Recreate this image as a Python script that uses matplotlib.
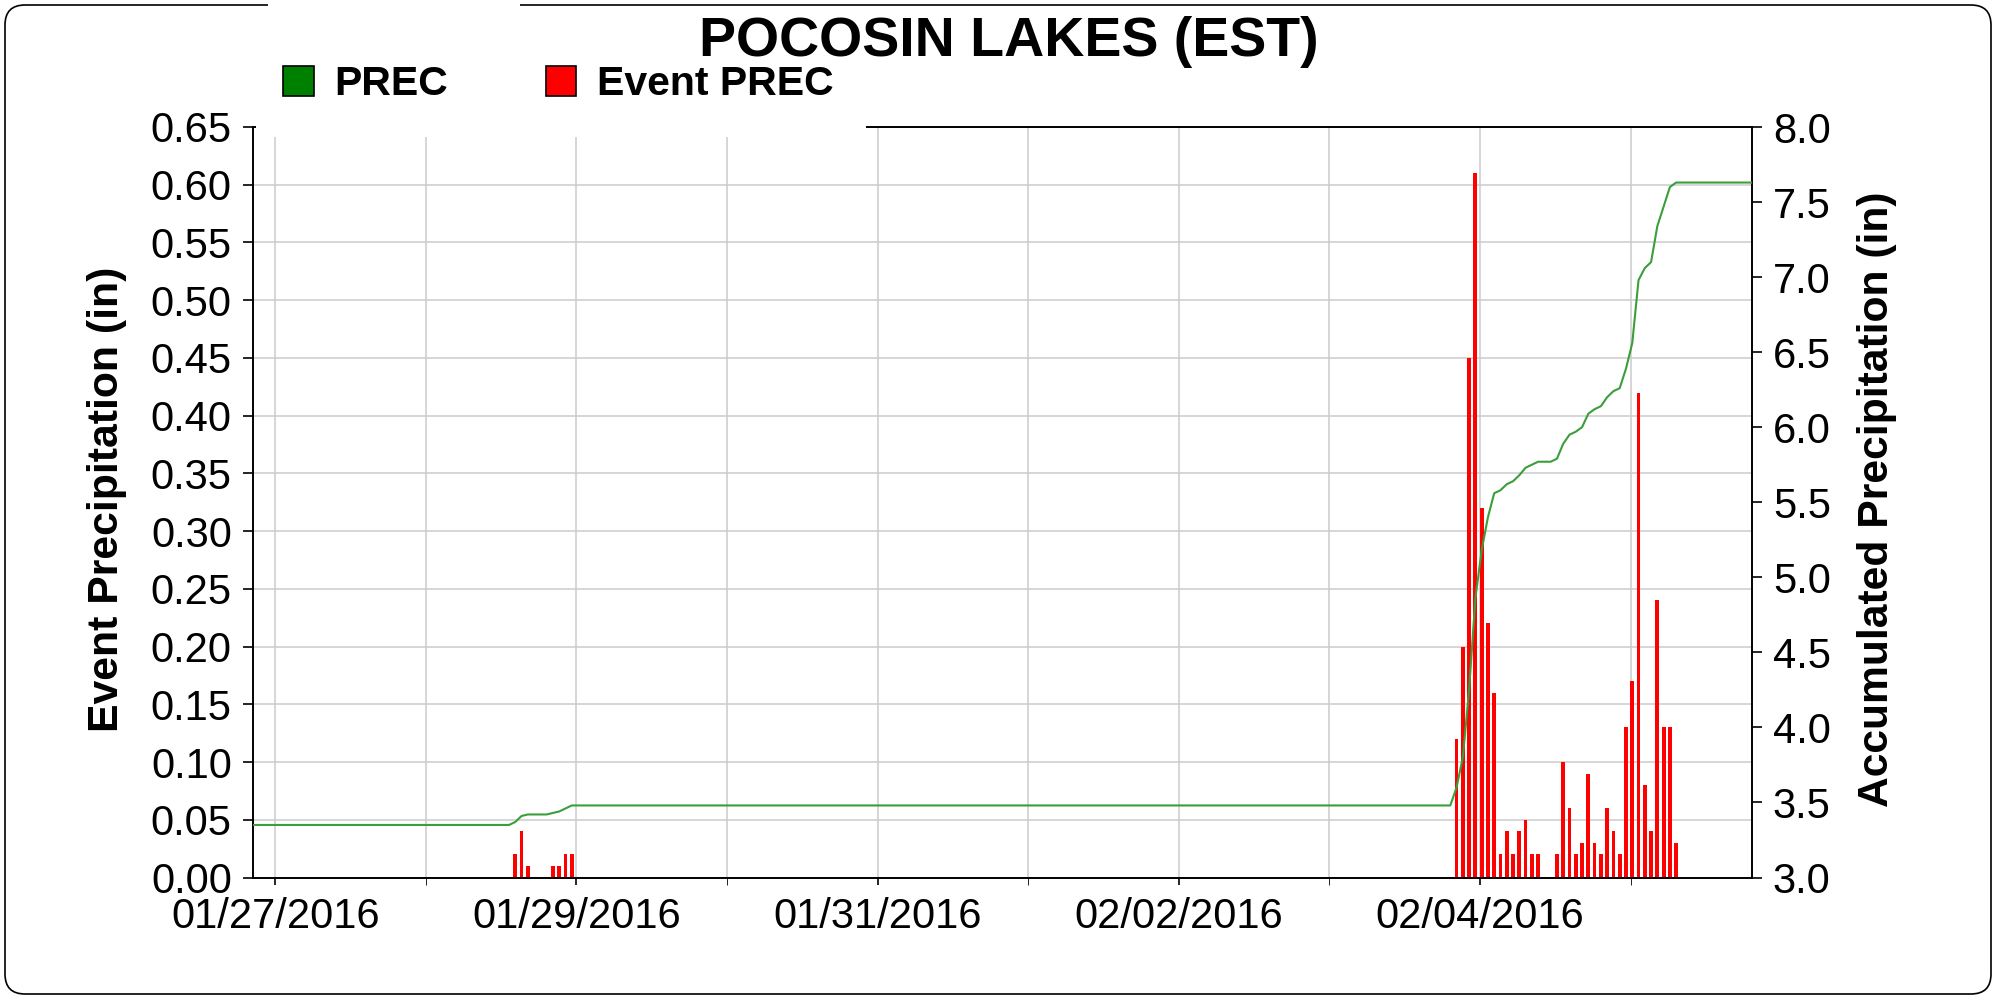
import matplotlib
matplotlib.use("Agg")
import matplotlib.pyplot as plt
import matplotlib.dates as mdates
import matplotlib.ticker as mticker
from matplotlib.patches import Patch, Rectangle, FancyBboxPatch
from matplotlib.transforms import IdentityTransform
import pandas as pd

# hourly event precipitation (in)
event_times = [
    "2016-01-28 14:15", "2016-01-28 15:15", "2016-01-28 16:15",
    "2016-01-28 20:15", "2016-01-28 21:15", "2016-01-28 22:15", "2016-01-28 23:15",
    "2016-02-03 20:15", "2016-02-03 21:15", "2016-02-03 22:15", "2016-02-03 23:15",
    "2016-02-04 00:15", "2016-02-04 01:15", "2016-02-04 02:15", "2016-02-04 03:15",
    "2016-02-04 04:15", "2016-02-04 05:15", "2016-02-04 06:15", "2016-02-04 07:15",
    "2016-02-04 08:15", "2016-02-04 09:15",
    "2016-02-04 12:15", "2016-02-04 13:15", "2016-02-04 14:15", "2016-02-04 15:15",
    "2016-02-04 16:15", "2016-02-04 17:15", "2016-02-04 18:15", "2016-02-04 19:15",
    "2016-02-04 20:15", "2016-02-04 21:15", "2016-02-04 22:15", "2016-02-04 23:15",
    "2016-02-05 00:15", "2016-02-05 01:15", "2016-02-05 02:15", "2016-02-05 03:15",
    "2016-02-05 04:15", "2016-02-05 05:15", "2016-02-05 06:15", "2016-02-05 07:15",
]
event_prec = [
    0.02, 0.04, 0.01,
    0.01, 0.01, 0.02, 0.02,
    0.12, 0.20, 0.45, 0.61,
    0.32, 0.22, 0.16, 0.02,
    0.04, 0.02, 0.04, 0.05,
    0.02, 0.02,
    0.02, 0.10, 0.06, 0.02,
    0.03, 0.09, 0.03, 0.02,
    0.06, 0.04, 0.02, 0.13,
    0.17, 0.42, 0.08, 0.04,
    0.24, 0.13, 0.13, 0.03,
]

# accumulated precipitation (in)
accum_times = [
    "2016-01-26 20:00", "2016-01-28 13:15",
    "2016-01-28 14:15", "2016-01-28 15:15", "2016-01-28 16:15", "2016-01-28 19:15",
    "2016-01-28 20:15", "2016-01-28 21:15", "2016-01-28 22:15", "2016-01-28 23:15",
    "2016-02-03 19:15",
    "2016-02-03 20:15", "2016-02-03 21:15", "2016-02-03 22:15", "2016-02-03 23:15",
    "2016-02-04 00:15", "2016-02-04 01:15", "2016-02-04 02:15", "2016-02-04 03:15",
    "2016-02-04 04:15", "2016-02-04 05:15", "2016-02-04 06:15", "2016-02-04 07:15",
    "2016-02-04 08:15", "2016-02-04 09:15", "2016-02-04 11:15",
    "2016-02-04 12:15", "2016-02-04 13:15", "2016-02-04 14:15", "2016-02-04 15:15",
    "2016-02-04 16:15", "2016-02-04 17:15", "2016-02-04 18:15", "2016-02-04 19:15",
    "2016-02-04 20:15", "2016-02-04 21:15", "2016-02-04 22:15", "2016-02-04 23:15",
    "2016-02-05 00:15", "2016-02-05 01:15", "2016-02-05 02:15", "2016-02-05 03:15",
    "2016-02-05 04:15", "2016-02-05 05:15", "2016-02-05 06:15", "2016-02-05 07:15",
    "2016-02-05 20:00",
]
accum_prec = [
    3.35, 3.35,
    3.37, 3.41, 3.42, 3.42,
    3.43, 3.44, 3.46, 3.48,
    3.48,
    3.60, 3.80, 4.25, 4.86,
    5.18, 5.40, 5.56, 5.58,
    5.62, 5.64, 5.68, 5.73,
    5.75, 5.77, 5.77,
    5.79, 5.89, 5.95, 5.97,
    6.00, 6.09, 6.12, 6.14,
    6.20, 6.24, 6.26, 6.39,
    6.56, 6.98, 7.06, 7.10,
    7.34, 7.47, 7.60, 7.63,
    7.63,
]

label_days = ["2016-01-27", "2016-01-29", "2016-01-31", "2016-02-02", "2016-02-04"]

plt.rcParams['font.family'] = ['Liberation Sans', 'DejaVu Sans']

W, H = 1997, 999
fig = plt.figure(figsize=(W / 100, H / 100), dpi=100)
ax = fig.add_axes([252.7 / W, 1 - 877.5 / H, (1752 - 252.7) / W, (877.5 - 127) / H])
ax2 = ax.twinx()

ev_t = pd.to_datetime(event_times)
ac_t = pd.to_datetime(accum_times)

ax.bar(ev_t, event_prec, width=0.6 / 24, color='#ff0000', zorder=2)
ax2.plot(ac_t, accum_prec, color='#3a9e3a', lw=1.5, zorder=3)

ax.set_xlim(pd.Timestamp("2016-01-26 20:24"), pd.Timestamp("2016-02-05 19:20"))
ax.set_ylim(0, 0.65)
ax2.set_ylim(3.0, 8.0)

ax.yaxis.set_major_locator(mticker.MultipleLocator(0.05))
ax.yaxis.set_major_formatter(mticker.FormatStrFormatter('%.2f'))
ax2.yaxis.set_major_locator(mticker.MultipleLocator(0.5))
ax2.yaxis.set_major_formatter(mticker.FormatStrFormatter('%.1f'))

ax.xaxis.set_major_locator(mticker.FixedLocator(mdates.date2num(pd.to_datetime(label_days))))
ax.xaxis.set_major_formatter(mdates.DateFormatter('%m/%d/%Y'))
ax.xaxis.set_minor_locator(mdates.DayLocator())

ax.grid(True, which='both', axis='x', color='#cccccc', lw=1.1, zorder=0)
ax.grid(True, which='major', axis='y', color='#cccccc', lw=1.1, zorder=0)
ax.set_axisbelow(True)

for a in (ax, ax2):
    for s in a.spines.values():
        s.set_linewidth(1.2)
    a.tick_params(width=1.2, labelsize=30, pad=8, color='black')
ax.tick_params(axis='y', length=7)
ax2.tick_params(axis='y', length=7)
ax.tick_params(axis='x', which='both', length=5, pad=9)

ax.set_ylabel('Event Precipitation (in)', fontsize=30.8, fontweight='bold')
ax2.set_ylabel('Accumulated Precipitation (in)', fontsize=30.7, fontweight='bold')
ax.yaxis.set_label_coords(127 / W, 0.5, transform=fig.transFigure)
ax2.yaxis.set_label_coords(1857 / W, 0.5, transform=fig.transFigure)

fig.text(1009 / W, 1 - 42 / H, 'POCOSIN LAKES (EST)', ha='center', va='center',
         fontsize=40, fontweight='bold')

handles = [Patch(facecolor='#008000', edgecolor='black', lw=1.2),
           Patch(facecolor='#ff0000', edgecolor='black', lw=1.2)]
fig.legend(handles, ['PREC', 'Event PREC'], ncol=2, loc='center left',
           bbox_to_anchor=(263 / W, 1 - 84 / H), frameon=False, borderpad=0,
           handlelength=0.75, handleheight=0.75, handletextpad=0.5,
           columnspacing=2.37, prop={'weight': 'bold', 'size': 29.5})

# white strip hiding the top-left of the plot frame, as in the original
fig.add_artist(Rectangle((256, H - 137), 866 - 256, 20, transform=IdentityTransform(),
                         facecolor='white', edgecolor='none', zorder=4))

# rounded outer frame with a break at the top
fig.add_artist(FancyBboxPatch((5, 5), W - 11, H - 10, boxstyle="round,pad=0,rounding_size=20",
                              transform=IdentityTransform(), fill=False, edgecolor='black',
                              lw=1.2, zorder=6))
fig.add_artist(Rectangle((268, H - 10), 252, 10, transform=IdentityTransform(),
                         facecolor='white', edgecolor='none', zorder=7))

fig.savefig('out.png', dpi=100)
